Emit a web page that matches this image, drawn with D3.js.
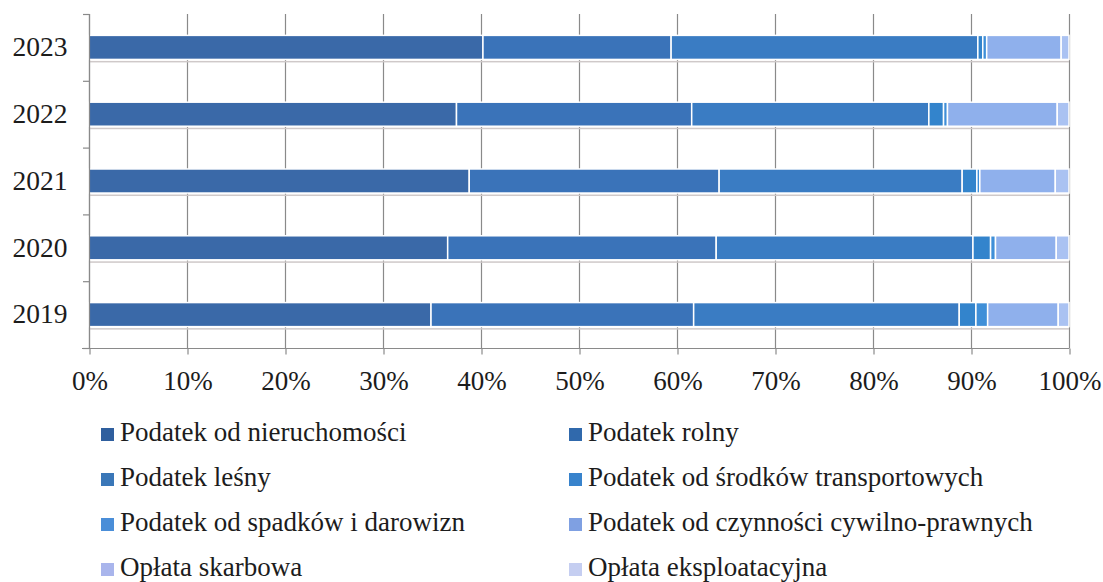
<!DOCTYPE html>
<html><head><meta charset="utf-8">
<script src="https://cdn.jsdelivr.net/npm/d3@7"></script>
<style>html,body{margin:0;padding:0;background:#fff;}svg{display:block;}</style>
</head><body>
<svg id="chart" width="1103" height="582"></svg>
<script>
const years = ["2023", "2022", "2021", "2020", "2019"];
const seriesNames = [
  "Podatek od nieruchomości",
  "Podatek rolny",
  "Podatek leśny",
  "Podatek od środków transportowych",
  "Podatek od spadków i darowizn",
  "Podatek od czynności cywilno-prawnych",
  "Opłata skarbowa",
  "Opłata eksploatacyjna"
];
const nieruchomosci = [40.2, 37.5, 38.8, 36.6, 34.9];
const rolny         = [19.2, 24.0, 25.5, 27.4, 26.8];
const lesny         = [31.3, 24.2, 24.8, 26.2, 27.1];
const transport     = [0.5, 1.5, 1.5, 1.8, 1.7];
const spadki        = [0.4, 0.4, 0.3, 0.5, 1.2];
const pcc           = [7.6, 11.2, 7.7, 6.2, 7.2];
const skarbowa      = [0.8, 1.2, 1.4, 1.3, 1.1];
const eksploatacyjna= [0, 0, 0, 0, 0];
const xTicks = [0, 10, 20, 30, 40, 50, 60, 70, 80, 90, 100];

(function () {
const seriesValues = [nieruchomosci, rolny, lesny, transport, spadki, pcc, skarbowa, eksploatacyjna];
const barColors = ["#3a69a8", "#3a73b9", "#3a7cc3", "#3384cc", "#3f8fd8", "#8fb0ec", "#aac2f2", "#c8d4f4"];
const legendColors = ["#2f5f9e", "#3069ac", "#3a77b8", "#3883cc", "#4a8ed8", "#7fa0e2", "#a9b5ec", "#c5cef1"];

const rows = years.map((yr, i) => {
  const o = {year: yr};
  seriesNames.forEach((s, k) => o[s] = seriesValues[k][i]);
  return o;
});
const stacked = d3.stack().keys(seriesNames)(rows);

const svg = d3.select("#chart");
const pLeft = 89, pRight = 1069, pTop = 14, pBottom = 348;
const x = d3.scaleLinear().domain([0, 100]).range([pLeft, pRight]);
const y = d3.scaleBand().domain(years).range([pTop, pBottom]).paddingInner(0.64).paddingOuter(0.32);
const font = "'Liberation Serif', 'Times New Roman', serif";
const textColor = "#1c1c1c";

// vertical gridlines
svg.append("g").selectAll("line").data(xTicks).join("line")
  .attr("x1", d => x(d) + 0.5).attr("x2", d => x(d) + 0.5)
  .attr("y1", pTop).attr("y2", pBottom)
  .attr("stroke", "#8a8a8a").attr("stroke-width", 1.2);

// faint shadow under bars
svg.append("g").selectAll("rect").data(years).join("rect")
  .attr("x", x(0)).attr("width", x(100) - x(0))
  .attr("y", d => y(d) + y.bandwidth() + 1.5).attr("height", 1.5)
  .attr("fill", "#cfc9c9");

// bars
svg.append("g").selectAll("g").data(stacked).join("g")
  .attr("fill", (d, i) => barColors[i])
  .selectAll("rect").data(d => d.filter(p => p[1] - p[0] > 0)).join("rect")
  .attr("x", d => x(d[0]))
  .attr("width", d => x(d[1]) - x(d[0]))
  .attr("y", d => y(d.data.year))
  .attr("height", y.bandwidth())
  .attr("stroke", "#fff").attr("stroke-width", 1.5);

// x axis
const xAxis = svg.append("g").attr("transform", `translate(0.5,${pBottom + 0.5})`)
  .call(d3.axisBottom(x).tickValues(xTicks).tickFormat(d => d + "%").tickSize(6).tickPadding(16));
xAxis.select(".domain").attr("stroke", "#8a8a8a").attr("stroke-width", 1.2).attr("d", `M${82 - 0.5},0H${pRight}`);
xAxis.selectAll(".tick line").attr("stroke", "#8a8a8a").attr("stroke-width", 1.2);
xAxis.selectAll(".tick text").attr("font-family", font).attr("font-size", 27).attr("fill", textColor);

// y axis
const yAxis = svg.append("g").attr("transform", `translate(${pLeft + 0.5},0)`)
  .call(d3.axisLeft(y).tickSize(0).tickPadding(22));
yAxis.select(".domain").attr("stroke", "#8a8a8a").attr("stroke-width", 1.2).attr("d", `M0,${pTop}V${pBottom}`);
yAxis.selectAll(".tick text").attr("font-family", font).attr("font-size", 27.5).attr("fill", textColor);
const step = y.step();
const boundaries = d3.range(years.length + 1).map(i => pTop + i * step);
svg.append("g").selectAll("line").data(boundaries).join("line")
  .attr("x1", pLeft - 6).attr("x2", pLeft + 0.5)
  .attr("y1", d => d + 0.5).attr("y2", d => d + 0.5)
  .attr("stroke", "#8a8a8a").attr("stroke-width", 1.2);

// legend
const legX = [101, 569], legY0 = 441, legDy = 45;
const leg = svg.append("g").selectAll("g").data(seriesNames).join("g")
  .attr("transform", (d, i) => `translate(${legX[i % 2]},${legY0 + Math.floor(i / 2) * legDy})`);
leg.append("rect").attr("x", 0).attr("y", -13).attr("width", 13).attr("height", 13)
  .attr("fill", (d, i) => legendColors[i]);
leg.append("text").attr("x", 19).attr("y", 0)
  .attr("font-family", font).attr("font-size", 27).attr("fill", textColor)
  .text(d => d);
})();
</script>
</body></html>
